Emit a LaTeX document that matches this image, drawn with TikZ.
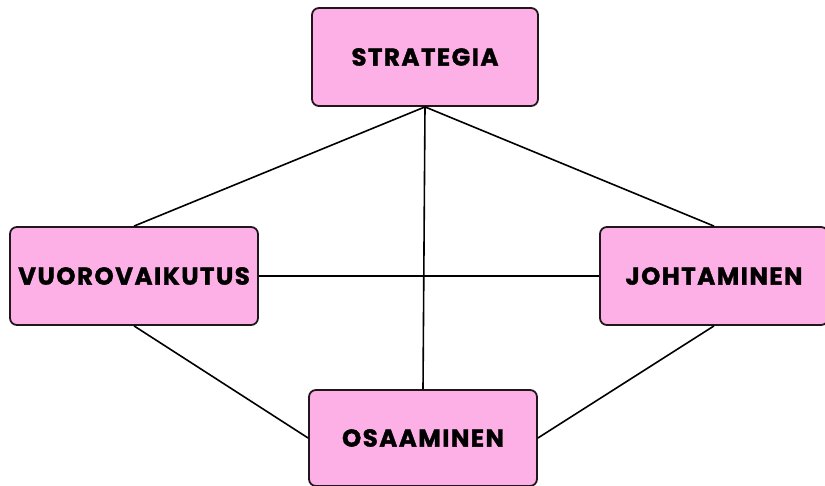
\documentclass[tikz,border=0pt]{standalone}
\usepackage{fontspec}
\setmainfont{Poppins}[LetterSpace=6, BoldFeatures={FakeBold=1.4}]
\definecolor{boxfill}{HTML}{FDB0E6}
\definecolor{boxline}{HTML}{22161D}
\begin{document}
\begin{tikzpicture}[x=1pt,y=-1pt,
  topic/.style={draw=boxline, line width=1.8pt, fill=boxfill, rounded corners=7pt,
    minimum width=#1, minimum height=98pt, inner sep=0pt,
    font=\fontsize{24.5}{28}\selectfont\bfseries, text=black},
  topic/.default=226pt,
  link/.style={draw=black, line width=1.6pt}]
\useasboundingbox (0,0) rectangle (825,486);
\begin{scope}
\clip (0,0) rectangle (825,486);
\node[topic] (S) at (425,57) {STRATEGIA};
\node[topic=248pt] (V) at (134,276) {VUOROVAIKUTUS};
\node[topic=228pt] (J) at (714,276) {JOHTAMINEN};
\node[topic=228pt, minimum height=96pt] (O) at (423,438) {OSAAMINEN};
\end{scope}
% connectors between the four topics
\draw[link] (S.south) -- (V.north);
\draw[link] (S.south) -- (J.north);
\draw[link] (S.south) -- (O.north);
\draw[link] (V.east) -- (J.west);
\draw[link] (V.south) -- (O.west);
\draw[link] (J.south) -- (O.east);
\end{tikzpicture}
\end{document}
